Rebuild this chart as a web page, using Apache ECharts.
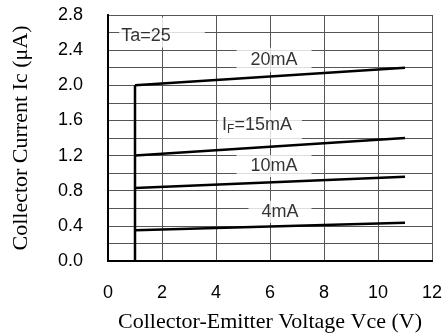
<!DOCTYPE html>
<html>
<head>
<meta charset="utf-8">
<script src="https://cdn.jsdelivr.net/npm/echarts@6/dist/echarts.min.js"></script>
<style>
  html, body { margin: 0; padding: 0; background: #fff; }
  #chart { width: 446px; height: 333px; }
</style>
</head>
<body>
<div id="chart"></div>
<script>
// 曲线数据 (Vce, Ic)
const vce = [1, 11];
const ic20 = [2.0, 2.2];
const ic15 = [1.2, 1.4];
const ic10 = [0.83, 0.96];
const ic4 = [0.35, 0.435];
// Vce=1 处的竖线
const riseVce = [1, 1];
const riseIc = [0, 2.0];

// 标注文字
const noteText = ['Ta=25', '20mA', '{a|I}{s|F}{a|=15mA}', '10mA', '4mA'];
const noteX = [2.0, 6.15, 5.63, 6.15, 6.37];
const noteY = [2.6, 2.29, 1.55, 1.08, 0.56];
const notePad = [[9, 34, 3, 2], [3, 14], [4, 10, 4, 4], [2, 14], [2, 13]];

const pairs = (xs, ys) => xs.map((x, i) => [x, ys[i]]);

const chart = echarts.init(document.getElementById('chart'));

const curve = (name, data) => ({
    name: name,
    type: 'line',
    data: data,
    symbol: 'none',
    silent: true,
    lineStyle: { color: '#000', width: 2.5 },
    z: 3
});
const border = { show: true, lineStyle: { color: '#000', width: 2 } };
const gridLine = { show: true, lineStyle: { color: '#555', width: 1 } };
const titleFont = { fontFamily: 'Liberation Serif', fontSize: 22, color: '#000' };
const tickFont = { fontFamily: 'Liberation Sans', fontSize: 18, color: '#000' };

chart.setOption({
    animation: false,
    grid: {
        left: 108,
        right: 14,
        top: 15,
        bottom: 72,
        outerBoundsMode: 'none',
        containLabel: false
    },
    xAxis: [{
        type: 'value',
        min: 0,
        max: 12,
        interval: 2,
        name: 'Collector-Emitter Voltage Vce (V)',
        nameLocation: 'middle',
        nameGap: 50,
        nameTextStyle: titleFont,
        axisLine: border,
        axisTick: { show: false },
        axisLabel: Object.assign({ margin: 23 }, tickFont),
        splitLine: gridLine
    }, {
        // 上边框
        type: 'value',
        position: 'top',
        min: 0,
        max: 12,
        interval: 2,
        axisLine: border,
        axisTick: { show: false },
        axisLabel: { show: false },
        splitLine: { show: false }
    }],
    yAxis: [{
        type: 'value',
        min: 0,
        max: 2.8,
        interval: 0.4,
        name: 'Collector Current Ic (\u03bcA)',
        nameLocation: 'middle',
        nameGap: 76,
        nameTextStyle: titleFont,
        axisLine: border,
        axisTick: { show: false },
        axisLabel: Object.assign({ margin: 25, formatter: v => v.toFixed(1) }, tickFont),
        splitLine: gridLine,
        minorTick: { show: false, splitNumber: 2 },
        minorSplitLine: gridLine
    }, {
        // 右边框
        type: 'value',
        position: 'right',
        min: 0,
        max: 2.8,
        interval: 0.4,
        axisLine: border,
        axisTick: { show: false },
        axisLabel: { show: false },
        splitLine: { show: false }
    }],
    series: [
        curve('rise', pairs(riseVce, riseIc)),
        curve('20mA', pairs(vce, ic20)),
        curve('15mA', pairs(vce, ic15)),
        curve('10mA', pairs(vce, ic10)),
        curve('4mA', pairs(vce, ic4)),
        {
            name: 'notes',
            type: 'scatter',
            symbolSize: 0,
            silent: true,
            z: 2,
            data: noteText.map((t, i) => ({
                value: [noteX[i], noteY[i]],
                label: {
                    show: true,
                    position: 'inside',
                    formatter: t,
                    color: '#000',
                    fontFamily: 'Liberation Sans',
                    fontSize: 18,
                    backgroundColor: '#fff',
                    padding: notePad[i],
                    rich: {
                        a: { fontFamily: 'Liberation Sans', fontSize: 18, color: '#000' },
                        s: { fontFamily: 'Liberation Sans', fontSize: 12, color: '#000', padding: [9, 0, 0, 0] }
                    }
                }
            }))
        }
    ]
});
</script>
</body>
</html>
